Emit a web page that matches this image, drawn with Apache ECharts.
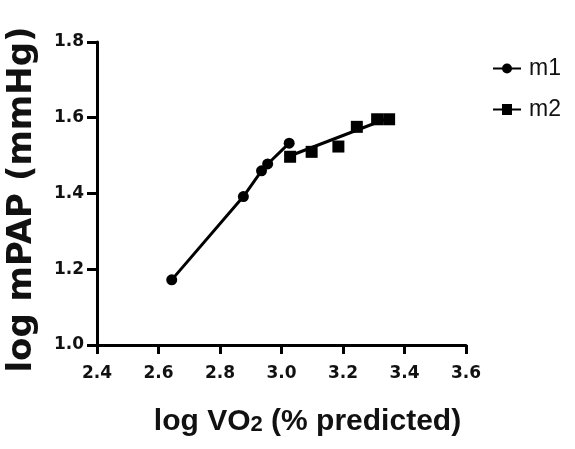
<!DOCTYPE html>
<html>
<head>
<meta charset="utf-8">
<script src="https://cdn.jsdelivr.net/npm/echarts@6/dist/echarts.min.js"></script>
<style>html,body{margin:0;padding:0;background:#fff;}#c{width:575px;height:449px;}</style>
</head>
<body>
<div id="c"></div>
<script>
// Data
const xTicks = [2.4, 2.6, 2.8, 3.0, 3.2, 3.4, 3.6];
const yTicks = [1.0, 1.2, 1.4, 1.6, 1.8];
const m1X = [2.643, 2.876, 2.935, 2.955, 3.025];
const m1Y = [1.172, 1.392, 1.460, 1.478, 1.533];
const m2X = [3.028, 3.098, 3.185, 3.245, 3.311, 3.350];
const m2Y = [1.497, 1.510, 1.524, 1.576, 1.596, 1.596];
const m2FitX = [3.02, 3.35];
const m2FitY = [1.497, 1.600];

const zip = (a, b) => a.map((v, i) => [v, b[i]]);

const chart = echarts.init(document.getElementById('c'), null, {renderer: 'canvas'});
const tickFont = {fontFamily: 'DejaVu Sans', fontWeight: 'bold', fontSize: 17, color: '#111'};
const axisLine = {lineStyle: {color: '#000', width: 3}};

chart.setOption({
  animation: false,
  backgroundColor: '#fff',
  grid: {left: 97, right: 109, top: 42, bottom: 104, containLabel: false, outerBoundsMode: 'none'},
  legend: {
    left: 488, top: 52, orient: 'vertical', itemGap: 18,
    itemWidth: 28, itemHeight: 11,
    textStyle: {fontFamily: 'Liberation Sans', fontSize: 23, color: '#111', padding: [0, 0, 0, 3]},
    data: [
      {name: 'm1', icon: 'path://M0,4.5H28V6.5H0Z M14,0.5A5,5,0,1,1,14,10.5A5,5,0,1,1,14,0.5Z'},
      {name: 'm2', icon: 'path://M0,4.5H28V6.5H0Z M9,0H19V11H9Z'}
    ]
  },
  xAxis: {
    type: 'value', min: 2.4, max: 3.6, interval: 0.2,
    axisLine: axisLine,
    axisTick: {show: true, length: 9, lineStyle: {color: '#000', width: 3}},
    splitLine: {show: false},
    axisLabel: Object.assign({margin: 20, formatter: v => v.toFixed(1)}, tickFont),
    name: '{a|log VO}{b|2}{a| (% predicted)}',
    nameLocation: 'middle', nameGap: 62,
    nameTextStyle: {
      padding: [0, 0, 0, 52],
      rich: {
        a: {fontFamily: 'Liberation Sans', fontWeight: 'bold', fontSize: 30, color: '#111'},
        b: {fontFamily: 'Liberation Sans', fontWeight: 'bold', fontSize: 22, color: '#111', padding: [6, 0, 0, 0]}
      }
    }
  },
  yAxis: {
    type: 'value', min: 1.0, max: 1.8, interval: 0.2,
    axisLine: axisLine,
    axisTick: {show: true, length: 10, lineStyle: {color: '#000', width: 3}},
    splitLine: {show: false},
    axisLabel: Object.assign({margin: 13, formatter: v => v.toFixed(1)}, tickFont),
    name: 'log mPAP (mmHg)', nameLocation: 'middle', nameGap: 58,
    nameTextStyle: {fontFamily: 'DejaVu Sans', fontWeight: 'bold', fontSize: 34, color: '#111', padding: [0, 12, 0, 0]}
  },
  series: [
    {
      name: 'm1', type: 'line', data: zip(m1X, m1Y),
      symbol: 'circle', symbolSize: 11, showAllSymbol: true,
      lineStyle: {color: '#000', width: 3}, itemStyle: {color: '#000'}
    },
    {
      name: 'm2', type: 'line', data: zip(m2FitX, m2FitY),
      showSymbol: false, symbol: 'none',
      lineStyle: {color: '#000', width: 3}, itemStyle: {color: '#000'}
    },
    {
      name: 'm2', type: 'scatter', data: zip(m2X, m2Y),
      symbol: 'rect', symbolSize: 12, itemStyle: {color: '#000', opacity: 1}
    }
  ]
});
</script>
</body>
</html>
